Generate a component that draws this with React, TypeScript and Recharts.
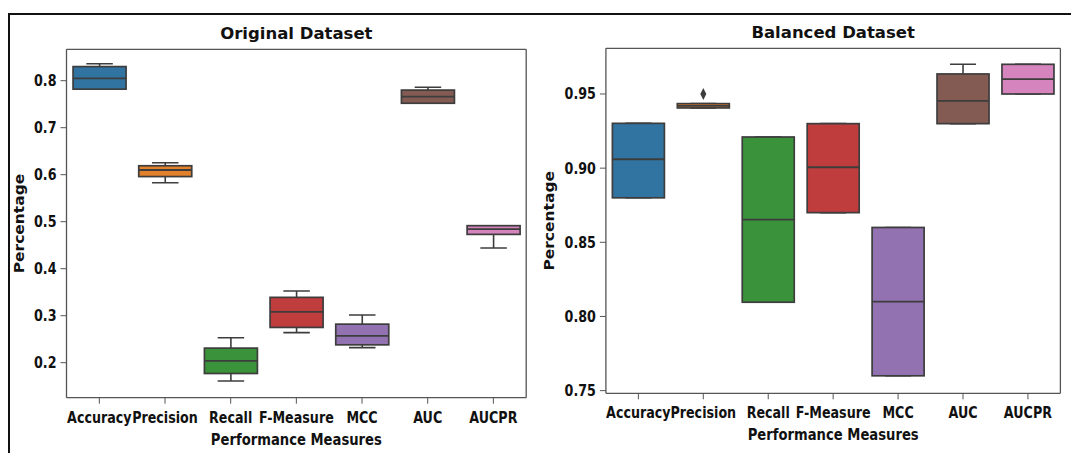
import { ComposedChart, Bar, XAxis, YAxis, Label } from 'recharts'

const measures = ['Accuracy', 'Precision', 'Recall', 'F-Measure', 'MCC', 'AUC', 'AUCPR']
const boxColors = ['#3274a1', '#e1812c', '#3a923a', '#c03d3e', '#9372b2', '#845b53', '#d684bd']

// Original dataset: whisker low, q1, median, q3, whisker high
const origLow = [0.782, 0.583, 0.161, 0.264, 0.232, 0.752, 0.444]
const origQ1 = [0.782, 0.596, 0.177, 0.275, 0.238, 0.752, 0.473]
const origMed = [0.805, 0.61, 0.204, 0.308, 0.257, 0.766, 0.484]
const origQ3 = [0.83, 0.619, 0.231, 0.339, 0.282, 0.78, 0.4915]
const origHigh = [0.836, 0.6255, 0.253, 0.3525, 0.3015, 0.786, 0.4915]
const origTicks = [0.2, 0.3, 0.4, 0.5, 0.6, 0.7, 0.8]

// Balanced dataset
const balLow = [0.88, 0.9406, 0.8096, 0.87, 0.76, 0.93, 0.95]
const balQ1 = [0.88, 0.9406, 0.8096, 0.87, 0.76, 0.93, 0.95]
const balMed = [0.906, 0.942, 0.8653, 0.9006, 0.81, 0.9453, 0.96]
const balQ3 = [0.9302, 0.9435, 0.921, 0.93, 0.86, 0.9635, 0.97]
const balHigh = [0.9302, 0.9435, 0.921, 0.93, 0.86, 0.97, 0.97]
const balFliers = [null, 0.95, null, null, null, null, null]
const balTicks = [0.75, 0.8, 0.85, 0.9, 0.95]

const FONT = 'DejaVu Sans'
const LINE = '#3d3d3d'
const AXIS = '#555'
const SQUEEZE = 0.82

function buildRows(lo: number[], q1: number[], med: number[], q3: number[], hi: number[], fl?: (number | null)[]) {
  return measures.map((name, i) => ({
    name,
    lo: lo[i],
    q1: q1[i],
    med: med[i],
    q3: q3[i],
    hi: hi[i],
    flier: fl ? fl[i] : null,
    color: boxColors[i],
  }))
}

const origRows = buildRows(origLow, origQ1, origMed, origQ3, origHigh)
const balRows = buildRows(balLow, balQ1, balMed, balQ3, balHigh, balFliers)

function BoxShape(props: any) {
  const { x, y, width, height, payload } = props
  const { lo, q1, med, q3, hi, flier, color } = payload
  const yHi = y
  const yLo = y + height
  const py = (v: number) => yLo + ((v - lo) / (hi - lo)) * (yHi - yLo)
  const cx = x + width / 2
  const cap = width / 4
  const top = py(q3)
  const bot = py(q1)
  return (
    <g>
      <line x1={cx} x2={cx} y1={py(hi)} y2={top} stroke={LINE} strokeWidth={1.6} />
      <line x1={cx} x2={cx} y1={bot} y2={py(lo)} stroke={LINE} strokeWidth={1.6} />
      <line x1={cx - cap} x2={cx + cap} y1={py(hi)} y2={py(hi)} stroke={LINE} strokeWidth={1.6} />
      <line x1={cx - cap} x2={cx + cap} y1={py(lo)} y2={py(lo)} stroke={LINE} strokeWidth={1.6} />
      <rect x={x} y={top} width={width} height={Math.max(bot - top, 0.5)} fill={color} stroke={LINE} strokeWidth={1.7} />
      <line x1={x} x2={x + width} y1={py(med)} y2={py(med)} stroke={LINE} strokeWidth={1.8} />
      {flier != null && (
        <path
          d={`M${cx},${py(flier) - 6} L${cx + 3},${py(flier)} L${cx},${py(flier) + 6} L${cx - 3},${py(flier)} Z`}
          fill={LINE}
        />
      )}
    </g>
  )
}

function makeYTick(digits: number) {
  return (props: any) => {
    const { x, y, payload } = props
    return (
      <g transform={`translate(${x},${y}) scale(${SQUEEZE},1)`}>
        <text x={0} y={0} textAnchor="end" dominantBaseline="central" fontFamily={FONT} fontWeight="bold" fontSize={15.5} fill="#111">
          {Number(payload.value).toFixed(digits)}
        </text>
      </g>
    )
  }
}

function makeXTick(dy: number) {
  return (props: any) => {
    const { x, y, payload } = props
    return (
      <g transform={`translate(${x},${y + dy}) scale(${SQUEEZE},1)`}>
        <text x={0} y={0} textAnchor="middle" fontFamily={FONT} fontWeight="bold" fontSize={15.5} fill="#111">
          {payload.value}
        </text>
      </g>
    )
  }
}

function xLabel(dy: number) {
  return (props: any) => {
    const vb = props.viewBox
    return (
      <g transform={`translate(${vb.x + vb.width / 2},${vb.y + dy}) scale(0.85,1)`}>
        <text x={0} y={0} textAnchor="middle" fontFamily={FONT} fontWeight="bold" fontSize={15.5} fill="#111">
          Performance Measures
        </text>
      </g>
    )
  }
}

function yLabel(dx: number) {
  return (props: any) => {
    const vb = props.viewBox
    return (
      <g transform={`translate(${vb.x + dx},${vb.y + vb.height / 2}) rotate(-90) scale(1,0.88)`}>
        <text x={0} y={0} textAnchor="middle" fontFamily={FONT} fontWeight="bold" fontSize={15.5} fill="#111">
          Percentage
        </text>
      </g>
    )
  }
}

function titleLabel(text: string) {
  return (props: any) => {
    const vb = props.viewBox
    return (
      <text x={vb.x + vb.width / 2} y={vb.y + vb.height - 10} textAnchor="middle" fontFamily={FONT} fontWeight="bold" fontSize={16.5} fill="#111">
        {text}
      </text>
    )
  }
}

interface PanelProps {
  rows: ReturnType<typeof buildRows>
  title: string
  domain: [number, number]
  ticks: number[]
  digits: number
  width: number
  margin: { top: number; right: number; bottom: number; left: number }
  yAxisWidth: number
  tickDy: number
  labelDy: number
  yLabelDx: number
}

function BoxPanel(p: PanelProps) {
  return (
    <ComposedChart width={p.width} height={453} data={p.rows} margin={p.margin} barCategoryGap="10%">
      <XAxis
        dataKey="name"
        interval={0}
        height={50}
        tickSize={6}
        tickMargin={4}
        tick={makeXTick(p.tickDy)}
        axisLine={{ stroke: AXIS, strokeWidth: 1.3 }}
        tickLine={{ stroke: AXIS }}
      >
        <Label content={xLabel(p.labelDy)} />
      </XAxis>
      <XAxis xAxisId="top" dataKey="name" orientation="top" height={1} tick={false} tickLine={false} axisLine={{ stroke: AXIS, strokeWidth: 1.3 }}>
        <Label content={titleLabel(p.title)} />
      </XAxis>
      <YAxis
        type="number"
        domain={p.domain}
        allowDataOverflow
        ticks={p.ticks}
        interval={0}
        width={p.yAxisWidth}
        tickSize={6}
        tickMargin={4}
        tick={makeYTick(p.digits)}
        axisLine={{ stroke: AXIS, strokeWidth: 1.3 }}
        tickLine={{ stroke: AXIS }}
      >
        <Label content={yLabel(p.yLabelDx)} />
      </YAxis>
      <YAxis
        yAxisId="r"
        orientation="right"
        type="number"
        domain={p.domain}
        allowDataOverflow
        width={1}
        tick={false}
        tickLine={false}
        axisLine={{ stroke: AXIS, strokeWidth: 1.3 }}
      />
      <Bar dataKey={(d: any) => [d.lo, d.hi]} shape={<BoxShape />} isAnimationActive={false} />
    </ComposedChart>
  )
}

export default function App() {
  return (
    <div style={{ position: 'absolute', left: 0, top: 0, width: 1071, height: 453, background: '#fff', overflow: 'hidden' }}>
      <div
        style={{
          position: 'absolute',
          left: 8,
          top: 13,
          width: 1070,
          height: 450,
          borderTop: '2px solid #111',
          borderLeft: '2px solid #111',
        }}
      />
      <div style={{ position: 'absolute', left: 0, top: 0 }}>
        <BoxPanel
          rows={origRows}
          title="Original Dataset"
          domain={[0.1255, 0.8668]}
          ticks={origTicks}
          digits={1}
          width={540}
          margin={{ top: 48.3, right: 12.8, bottom: 5.3, left: 6.5 }}
          yAxisWidth={60}
          tickDy={15.5}
          labelDy={47.3}
          yLabelDx={17.5}
        />
      </div>
      <div style={{ position: 'absolute', left: 530, top: 0 }}>
        <BoxPanel
          rows={balRows}
          title="Balanced Dataset"
          domain={[0.7482, 0.9808]}
          ticks={balTicks}
          digits={2}
          width={541}
          margin={{ top: 47.3, right: 9.6, bottom: 9.7, left: 5.9 }}
          yAxisWidth={70}
          tickDy={14.5}
          labelDy={46.7}
          yLabelDx={18}
        />
      </div>
    </div>
  )
}
